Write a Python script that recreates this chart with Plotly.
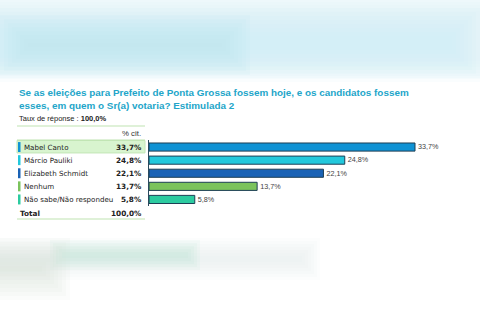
import plotly.graph_objects as go

W, H = 480, 320

categories = ["Mabel Canto", "Márcio Pauliki", "Elizabeth Schmidt", "Nenhum", "Não sabe/Não respondeu"]
values = [33.7, 24.8, 22.1, 13.7, 5.8]
value_labels = ["33,7%", "24,8%", "22,1%", "13,7%", "5,8%"]
colors = ["#0f92d4", "#22c8dc", "#1a62b5", "#7bc35c", "#2ccba0"]
total_label = "100,0%"
title_lines = ["Se as eleições para Prefeito de Ponta Grossa fossem hoje, e os candidatos fossem",
               "esses, em quem o Sr(a) votaria? Estimulada 2"]
response_rate = "100,0%"

FONT = "Liberation Sans, Arial, sans-serif"
TFONT = "DejaVu Sans, Verdana, sans-serif"

def px(x):
    return x / W

def py(y):
    return 1 - y / H

x_start, x_end = 149, 465
ymin_px, ymax_px = 140, 205
xmax = (x_end - x_start) / ((415 - x_start) / 33.7)

fig = go.Figure()
fig.add_trace(go.Bar(
    x=values, y=categories, orientation="h",
    marker=dict(color=colors, line=dict(color="#1d3f55", width=1)),
    text=value_labels, textposition="outside", cliponaxis=False,
    textfont=dict(family=FONT, size=8, color="#444"),
    hoverinfo="skip",
))

shapes = []
annotations = []

def blob(x0, x1, y0, y1, rgb, steps=8, inset=4, alpha=0.14):
    for k in range(steps):
        d = k * inset
        if x0 + d >= x1 - d or y0 + d >= y1 - d:
            break
        shapes.append(dict(type="rect", xref="paper", yref="paper",
                           x0=px(x0 + d), x1=px(x1 - d), y0=py(y1 - d), y1=py(y0 + d),
                           fillcolor="rgba(%d,%d,%d,%.3f)" % (rgb + (alpha,)), line_width=0, layer="below"))

# background blur approximations
blob(-30, 520, -10, 82, (225, 244, 248), steps=8, inset=3, alpha=0.16)
blob(-20, 480, 8, 78, (205, 236, 243), steps=8, inset=4, alpha=0.12)
blob(0, 250, 15, 75, (190, 230, 240), steps=8, inset=4, alpha=0.12)
blob(-40, 320, 238, 280, (225, 240, 235), steps=8, inset=3, alpha=0.10)
blob(50, 200, 240, 270, (175, 228, 210), steps=6, inset=3, alpha=0.10)
blob(-40, 70, 238, 300, (220, 222, 220), steps=8, inset=4, alpha=0.10)

# table separator lines
for yl in (126, 140, 219):
    shapes.append(dict(type="line", xref="paper", yref="paper", x0=px(17), x1=px(145), y0=py(yl), y1=py(yl),
                       line=dict(color="#bfe3b2", width=1.2)))

# highlighted first row
shapes.append(dict(type="rect", xref="paper", yref="y", x0=px(17), x1=px(145), y0=-0.5, y1=0.45,
                   fillcolor="#d8f4cf", line=dict(color="#c2e6b6", width=1), layer="below"))

for i, (cat, vl, c) in enumerate(zip(categories, value_labels, colors)):
    shapes.append(dict(type="rect", xref="paper", yref="y", x0=px(18), x1=px(20.5), y0=i - 0.38, y1=i + 0.38,
                       fillcolor=c, line_width=0))
    annotations.append(dict(x=px(22), y=cat, xref="paper", yref="y", text=cat, showarrow=False,
                            xanchor="left", yanchor="middle", font=dict(family=TFONT, size=7.1, color="#222")))
    annotations.append(dict(x=px(143.5), y=cat, xref="paper", yref="y", text="<b>" + vl + "</b>", showarrow=False,
                            xanchor="right", yanchor="middle", font=dict(family=TFONT, size=7.3, color="#222")))

annotations.append(dict(x=px(18), y=py(213), xref="paper", yref="paper", text="<b>Total</b>", showarrow=False,
                        xanchor="left", yanchor="middle", font=dict(family=TFONT, size=7.3, color="#222")))
annotations.append(dict(x=px(143.5), y=py(213), xref="paper", yref="paper", text="<b>" + total_label + "</b>",
                        showarrow=False, xanchor="right", yanchor="middle", font=dict(family=TFONT, size=7.3, color="#222")))
annotations.append(dict(x=px(143), y=py(133), xref="paper", yref="paper", text="% cit.", showarrow=False,
                        xanchor="right", yanchor="middle", font=dict(family=FONT, size=7.8, color="#333")))
annotations.append(dict(x=px(17), y=py(118), xref="paper", yref="paper",
                        text="Taux de réponse : <b>" + response_rate + "</b>", showarrow=False,
                        xanchor="left", yanchor="middle", font=dict(family=FONT, size=7.5, color="#222")))
for ln, yy in zip(title_lines, (92, 105)):
    annotations.append(dict(x=px(17), y=py(yy), xref="paper", yref="paper", text="<b>" + ln + "</b>",
                            showarrow=False, xanchor="left", yanchor="middle",
                            font=dict(family=FONT, size=9.9, color="#22a5c9")))

fig.update_layout(
    width=W, height=H, margin=dict(l=0, r=0, t=0, b=0),
    paper_bgcolor="white", plot_bgcolor="rgba(0,0,0,0)",
    showlegend=False, bargap=0.38,
    shapes=shapes, annotations=annotations,
    xaxis=dict(domain=[px(x_start), px(x_end)], range=[0, xmax], visible=False, fixedrange=True),
    yaxis=dict(domain=[py(ymax_px + 1), py(ymin_px)], autorange="reversed", showticklabels=False,
               showgrid=False, zeroline=False, showline=True, linecolor="#2a4a5e", linewidth=1, ticks=""),
)

fig.write_html("out.html", config={"displayModeBar": False})
